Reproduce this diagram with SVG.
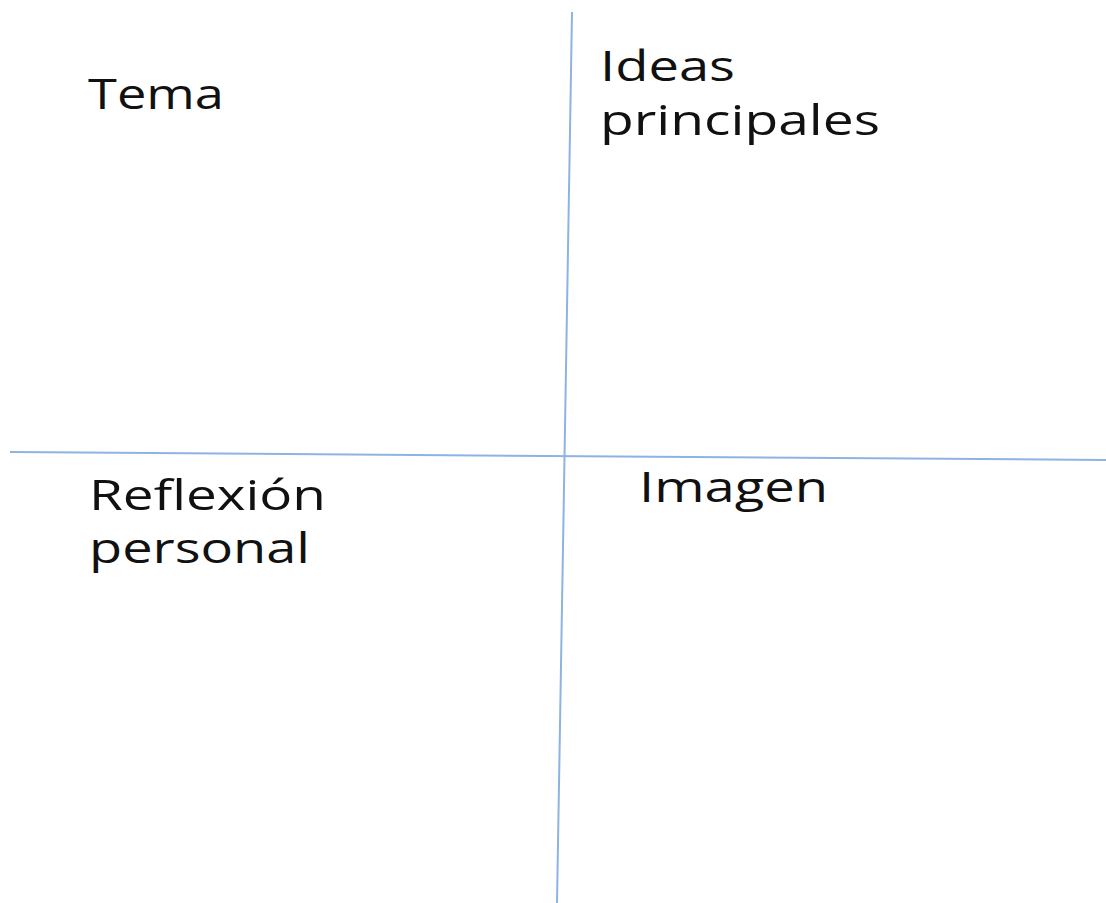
<svg xmlns="http://www.w3.org/2000/svg" width="1106" height="903" viewBox="0 0 1106 903">
<style>
.t{font-family:"Open Sans","Liberation Sans",sans-serif;font-size:42px;fill:#111}
.ln{stroke:#8db3e2;stroke-width:2;fill:none}
</style>
<rect width="1106" height="903" fill="#fff"/>
<g id="connectors">
<line class="ln" x1="572" y1="12" x2="557" y2="903"/>
<line class="ln" x1="10" y1="452" x2="1106" y2="460"/>
</g>
<g id="tema"><text class="t" x="88" y="109" textLength="136" lengthAdjust="spacingAndGlyphs">Tema</text></g>
<g id="ideas">
<text class="t" x="600" y="81" textLength="135" lengthAdjust="spacingAndGlyphs">Ideas</text>
<text class="t" x="600" y="135" textLength="280" lengthAdjust="spacingAndGlyphs">principales</text>
</g>
<g id="reflexion">
<text class="t" x="89" y="510" textLength="237" lengthAdjust="spacingAndGlyphs">Reflexión</text>
<text class="t" x="89" y="563" textLength="221" lengthAdjust="spacingAndGlyphs">personal</text>
</g>
<g id="imagen"><text class="t" x="639" y="502" textLength="189" lengthAdjust="spacingAndGlyphs">Imagen</text></g>
</svg>
